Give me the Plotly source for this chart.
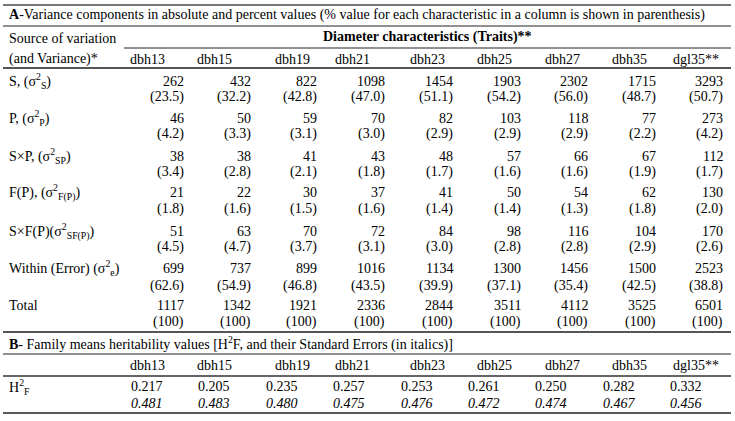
import plotly.graph_objects as go

# column headers (traits)
traits = ["dbh13", "dbh15", "dbh19", "dbh21", "dbh23", "dbh25", "dbh27", "dbh35", "dgl35**"]

# section A: sources of variation
sources = [
    "S, (σ<sup>2</sup><sub>S</sub>)",
    "P, (σ<sup>2</sup><sub>P</sub>)",
    "S×P, (σ<sup>2</sup><sub>SP</sub>)",
    "F(P), (σ<sup>2</sup><sub>F(P)</sub>)",
    "S×F(P)(σ<sup>2</sup><sub>SF(P)</sub>)",
    "Within (Error) (σ<sup>2</sup><sub>e</sub>)",
    "Total",
]

var_s = [262, 432, 822, 1098, 1454, 1903, 2302, 1715, 3293]
pct_s = ["23.5", "32.2", "42.8", "47.0", "51.1", "54.2", "56.0", "48.7", "50.7"]
var_p = [46, 50, 59, 70, 82, 103, 118, 77, 273]
pct_p = ["4.2", "3.3", "3.1", "3.0", "2.9", "2.9", "2.9", "2.2", "4.2"]
var_sp = [38, 38, 41, 43, 48, 57, 66, 67, 112]
pct_sp = ["3.4", "2.8", "2.1", "1.8", "1.7", "1.6", "1.6", "1.9", "1.7"]
var_fp = [21, 22, 30, 37, 41, 50, 54, 62, 130]
pct_fp = ["1.8", "1.6", "1.5", "1.6", "1.4", "1.4", "1.3", "1.8", "2.0"]
var_sfp = [51, 63, 70, 72, 84, 98, 116, 104, 170]
pct_sfp = ["4.5", "4.7", "3.7", "3.1", "3.0", "2.8", "2.8", "2.9", "2.6"]
var_e = [699, 737, 899, 1016, 1134, 1300, 1456, 1500, 2523]
pct_e = ["62.6", "54.9", "46.8", "43.5", "39.9", "37.1", "35.4", "42.5", "38.8"]
var_tot = [1117, 1342, 1921, 2336, 2844, 3511, 4112, 3525, 6501]
pct_tot = ["100"] * 9

variances = [var_s, var_p, var_sp, var_fp, var_sfp, var_e, var_tot]
percents = [pct_s, pct_p, pct_sp, pct_fp, pct_sfp, pct_e, pct_tot]

# section B: family means heritability and standard errors
h2f = ["0.217", "0.205", "0.235", "0.257", "0.253", "0.261", "0.250", "0.282", "0.332"]
h2f_se = ["0.481", "0.483", "0.480", "0.475", "0.476", "0.472", "0.474", "0.467", "0.456"]

# layout (pixel positions on a 735x421 canvas)
W, H = 735, 421
FONT = dict(family="Liberation Serif", size=14, color="black")
col_right = [185, 252, 318, 386, 454, 522, 589, 657, 724]
col_head = [147, 214, 292, 352, 427, 494, 562, 629, 696]
col_left_b = [130, 197, 265, 332, 400, 467, 534, 602, 669]
row_val = [81, 118, 156, 192, 231, 268, 305]
row_pct = [97, 134, 172, 209, 247, 286, 322]
x_label = 8

fig = go.Figure()
ann = []


def txt(x, y, s, anchor="left", **kw):
    ann.append(dict(x=x, y=y, xref="x", yref="y", text=s, showarrow=False,
                    xanchor=anchor, yanchor="middle", font=FONT, borderpad=0, **kw))


# titles
txt(x_label, 15, "<b>A</b>-Variance components in absolute and percent values "
    "(% value for each characteristic in a column is shown in parenthesis)")
txt(x_label, 38, "Source of variation")
txt(x_label, 59, "(and Variance)*")
txt(427, 37, "<b>Diameter characteristics (Traits)**</b>", anchor="center")
for j, t in enumerate(traits):
    txt(col_head[j], 59, t, anchor="center")

# section A body
for i, src in enumerate(sources):
    txt(x_label, row_val[i], src)
    for j in range(len(traits)):
        txt(col_right[j], row_val[i], str(variances[i][j]), anchor="right")
        txt(col_right[j], row_pct[i], "(" + percents[i][j] + ")", anchor="right")

# section B
txt(x_label, 343, "<b>B</b>- Family means heritability values "
    "[H<sup>2</sup>F, and their Standard Errors (in italics)]")
for j, t in enumerate(traits):
    txt(col_head[j], 365, t, anchor="center")
txt(x_label, 387, "H<sup>2</sup><sub>F</sub>")
for j in range(len(traits)):
    txt(col_left_b[j], 386, h2f[j])
    txt(col_left_b[j], 403, "<i>" + h2f_se[j] + "</i>")

# horizontal rules
rules = [
    (3, 731, 5, "#777777", 2),
    (3, 731, 26, "#222222", 1),
    (124, 731, 48, "#222222", 1),
    (3, 731, 68, "#555555", 2),
    (3, 731, 332, "#555555", 2),
    (3, 731, 354, "#222222", 1),
    (3, 731, 376, "#666666", 2),
    (3, 731, 413, "#222222", 1.5),
]
shapes = [dict(type="line", xref="x", yref="y", x0=a, x1=b, y0=y, y1=y,
               line=dict(color=c, width=w)) for a, b, y, c, w in rules]

fig.update_layout(
    width=W, height=H,
    margin=dict(l=0, r=0, t=0, b=0),
    paper_bgcolor="white", plot_bgcolor="white",
    xaxis=dict(range=[0, W], visible=False, fixedrange=True),
    yaxis=dict(range=[H, 0], visible=False, fixedrange=True),
    annotations=ann, shapes=shapes, showlegend=False,
)

# drop the browser's default page margin so the canvas sits at (0, 0)
fig.write_html("out.html", config={"displayModeBar": False},
               post_script="document.body.style.margin='0';")
